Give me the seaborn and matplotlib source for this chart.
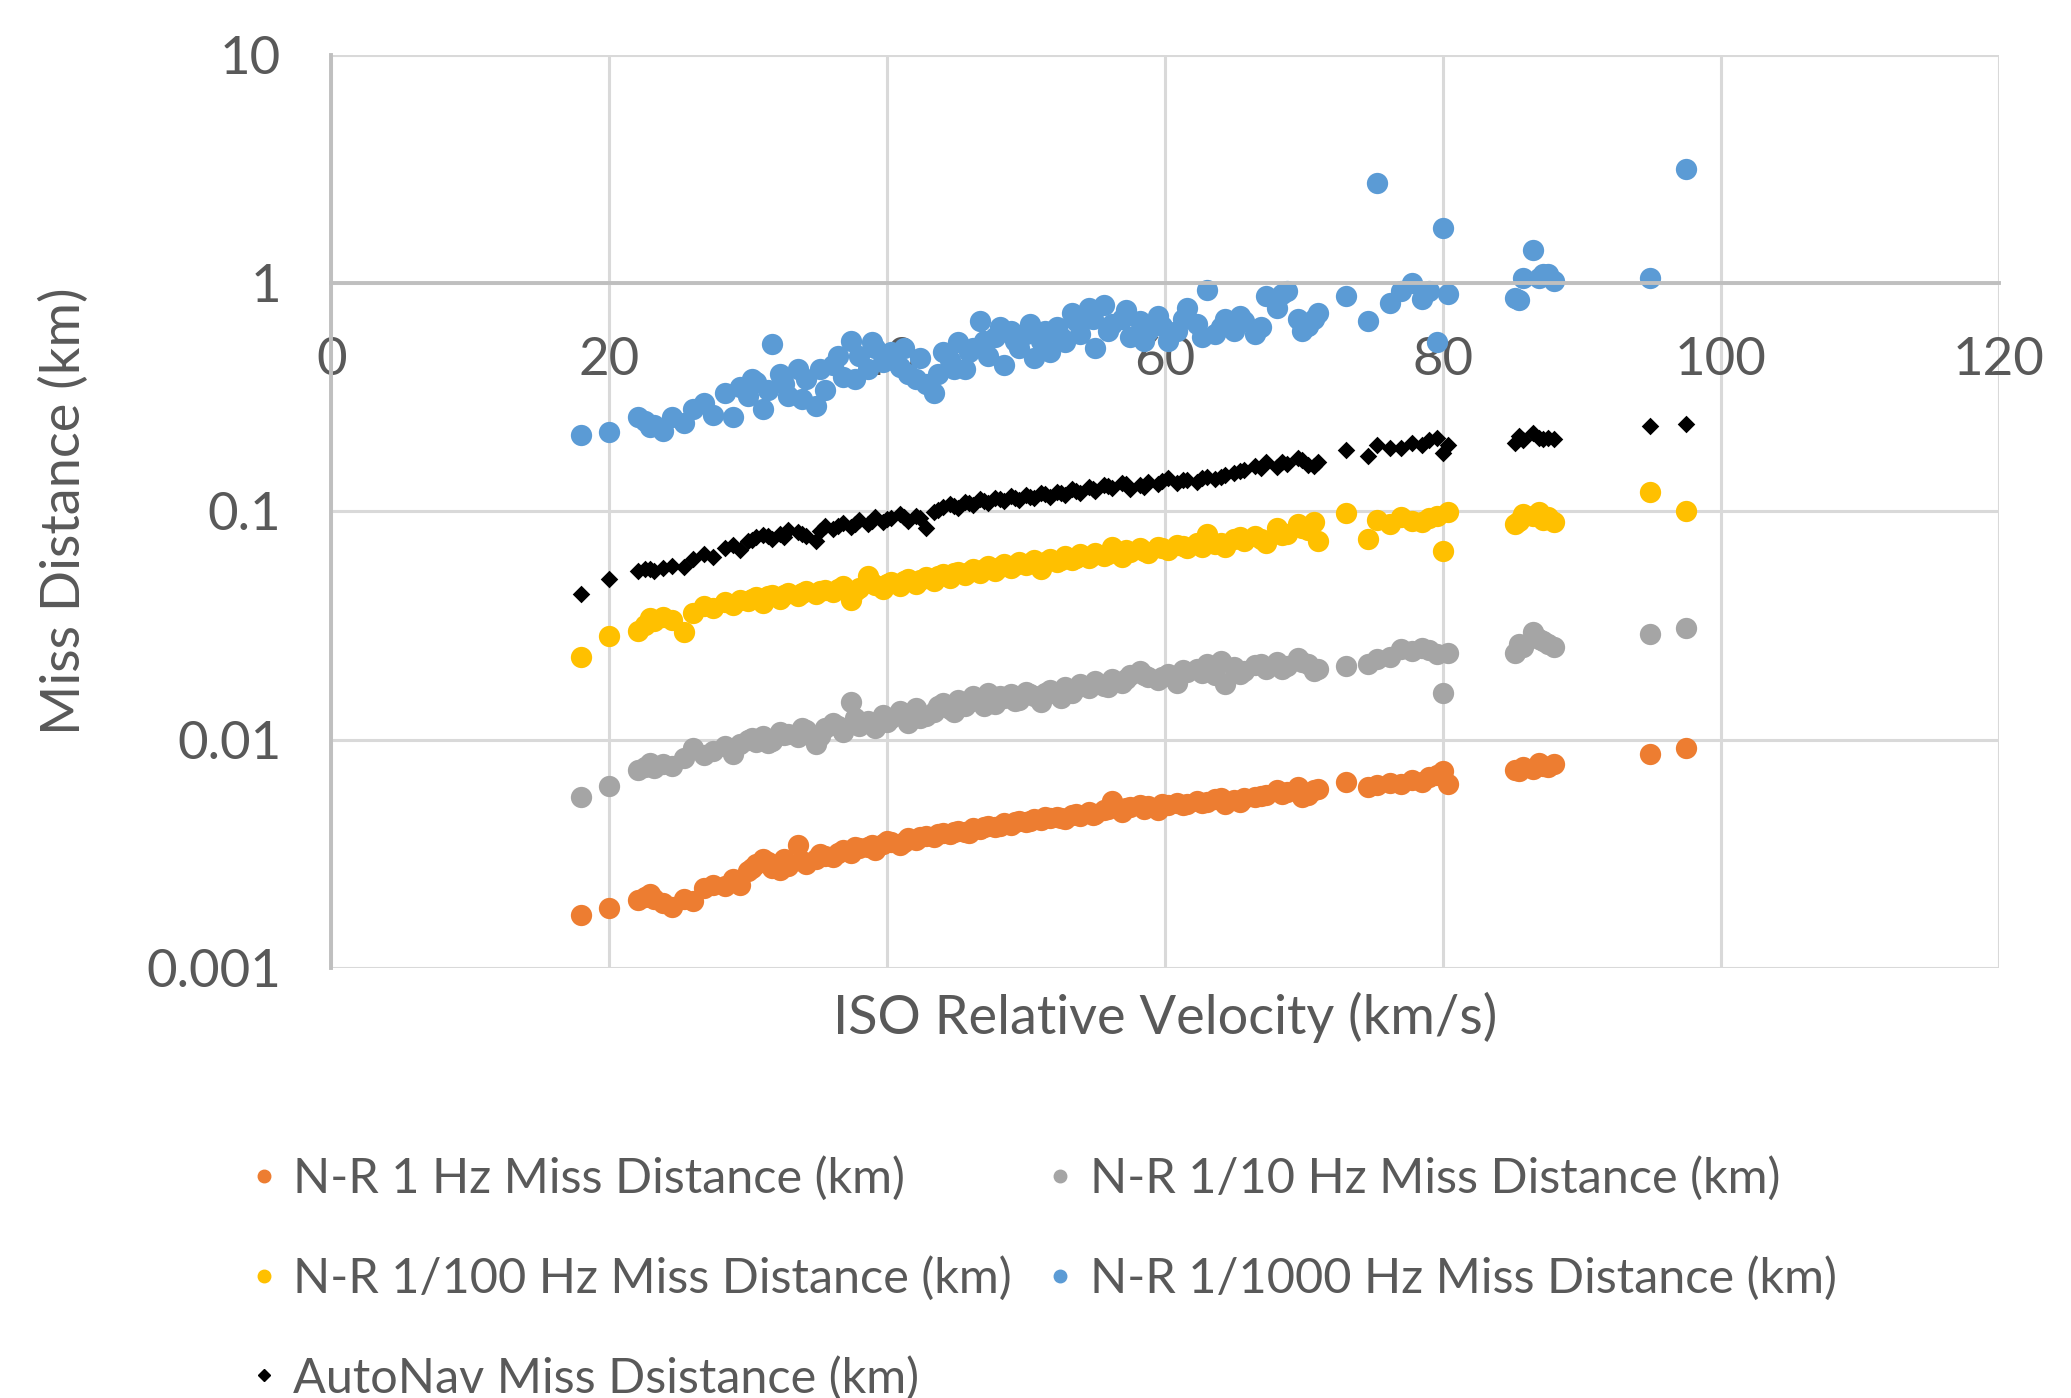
import matplotlib
matplotlib.use("Agg")
import matplotlib.pyplot as plt
import matplotlib.ticker as mticker
import seaborn as sns
import pandas as pd

# ISO relative velocity (km/s), shared by every series
VELOCITY = [
    18.0, 20.0, 22.1, 22.6, 23.2, 23.9, 24.5, 25.4, 26.0, 26.8,
    27.5, 28.3, 28.9, 29.4, 30.0, 30.6, 31.1, 31.7, 32.3, 32.9,
    33.6, 34.2, 34.9, 35.5, 36.1, 36.8, 37.4, 38.0, 38.6, 39.1,
    39.7, 40.3, 40.9, 41.5, 42.1, 42.8, 43.4, 44.0, 44.5, 45.1,
    45.6, 46.2, 46.7, 47.3, 47.8, 48.4, 48.9, 49.5, 50.0, 50.6,
    51.1, 51.7, 52.2, 52.8, 53.3, 53.9, 54.5, 55.0, 55.6, 56.2,
    56.9, 57.5, 58.2, 58.8, 59.5, 60.2, 60.9, 61.6, 62.3, 63.0,
    63.6, 64.3, 65.0, 65.7, 66.5, 67.3, 68.1, 68.8, 69.6, 70.3,
    71.0, 73.0, 74.6, 75.3, 77.0, 77.8, 78.5, 79.6, 80.0, 80.4,
    85.2, 85.8, 86.5, 87.2, 88.0, 94.9, 97.5,
    # second batch of runs
    30.3, 31.4, 32.6, 33.9, 35.2, 36.5, 37.7, 38.9, 40.0, 41.2,
    42.4, 43.7, 44.8, 45.9, 47.0, 48.1, 49.2, 50.3, 51.4, 52.5,
    53.6, 54.8, 55.9, 57.2, 58.5, 59.8, 61.3, 62.7, 64.0, 65.4,
    66.9, 68.4, 69.9, 70.7, 76.2, 79.0, 85.5, 86.9, 87.6, 22.9,
]

NR_1HZ = [
    0.00170, 0.00183, 0.00198, 0.00205, 0.00200, 0.00192, 0.00185, 0.00200, 0.00196, 0.00225,
    0.00232, 0.00228, 0.00245, 0.00232, 0.00265, 0.00285, 0.00300, 0.00275, 0.00268, 0.00280,
    0.00345, 0.00285, 0.00300, 0.00310, 0.00305, 0.00330, 0.00320, 0.00335, 0.00340, 0.00330,
    0.00350, 0.00355, 0.00345, 0.00370, 0.00365, 0.00380, 0.00375, 0.00390, 0.00385, 0.00400,
    0.00395, 0.00410, 0.00405, 0.00420, 0.00415, 0.00430, 0.00425, 0.00440, 0.00435, 0.00450,
    0.00445, 0.00455, 0.00460, 0.00450, 0.00470, 0.00465, 0.00480, 0.00475, 0.00490, 0.00540,
    0.00480, 0.00505, 0.00520, 0.00510, 0.00490, 0.00515, 0.00530, 0.00525, 0.00540, 0.00535,
    0.00550, 0.00525, 0.00545, 0.00555, 0.00560, 0.00575, 0.00600, 0.00590, 0.00620, 0.00570,
    0.00610, 0.00650, 0.00620, 0.00635, 0.00640, 0.00665, 0.00655, 0.00700, 0.00730, 0.00640,
    0.00740, 0.00760, 0.00745, 0.00770, 0.00780, 0.00870, 0.00920,
    0.00275, 0.00290, 0.00300, 0.00295, 0.00315, 0.00320, 0.00340, 0.00345, 0.00360, 0.00355,
    0.00375, 0.00385, 0.00395, 0.00390, 0.00415, 0.00420, 0.00435, 0.00440, 0.00460, 0.00455,
    0.00475, 0.00470, 0.00495, 0.00500, 0.00495, 0.00525, 0.00515, 0.00530, 0.00555, 0.00535,
    0.00565, 0.00580, 0.00560, 0.00600, 0.00645, 0.00690, 0.00730, 0.00790, 0.00760, 0.00210,
]

NR_10HZ = [
    0.0056, 0.0063, 0.0074, 0.0076, 0.0075, 0.0078, 0.0077, 0.0083, 0.0092, 0.0086,
    0.0089, 0.0094, 0.0087, 0.0096, 0.0100, 0.0098, 0.0104, 0.0099, 0.0108, 0.0106,
    0.0103, 0.0110, 0.0096, 0.0112, 0.0118, 0.0108, 0.0146, 0.0115, 0.0121, 0.0112,
    0.0128, 0.0124, 0.0133, 0.0118, 0.0138, 0.0127, 0.0132, 0.0145, 0.0136, 0.0150,
    0.0141, 0.0155, 0.0148, 0.0160, 0.0144, 0.0152, 0.0158, 0.0150, 0.0162, 0.0155,
    0.0147, 0.0165, 0.0158, 0.0170, 0.0160, 0.0175, 0.0168, 0.0180, 0.0172, 0.0185,
    0.0178, 0.0192, 0.0200, 0.0188, 0.0182, 0.0195, 0.0178, 0.0198, 0.0205, 0.0215,
    0.0192, 0.0176, 0.0208, 0.0200, 0.0212, 0.0205, 0.0218, 0.0210, 0.0228, 0.0215,
    0.0205, 0.0210, 0.0215, 0.0225, 0.0250, 0.0245, 0.0252, 0.0238, 0.0160, 0.0240,
    0.0240, 0.0255, 0.0295, 0.0270, 0.0255, 0.0290, 0.0310,
    0.0102, 0.0097, 0.0105, 0.0113, 0.0104, 0.0115, 0.0125, 0.0118, 0.0120, 0.0130,
    0.0125, 0.0140, 0.0132, 0.0146, 0.0140, 0.0156, 0.0148, 0.0158, 0.0160, 0.0153,
    0.0168, 0.0176, 0.0170, 0.0185, 0.0193, 0.0188, 0.0202, 0.0196, 0.0222, 0.0195,
    0.0215, 0.0205, 0.0220, 0.0200, 0.0230, 0.0248, 0.0262, 0.0275, 0.0262, 0.0079,
]

NR_100HZ = [
    0.0231, 0.0286, 0.0300, 0.0318, 0.0330, 0.0345, 0.0335, 0.0295, 0.0360, 0.0385,
    0.0378, 0.0400, 0.0390, 0.0410, 0.0405, 0.0420, 0.0398, 0.0430, 0.0415, 0.0440,
    0.0425, 0.0448, 0.0435, 0.0455, 0.0442, 0.0470, 0.0410, 0.0462, 0.0520, 0.0475,
    0.0458, 0.0490, 0.0470, 0.0505, 0.0480, 0.0515, 0.0498, 0.0530, 0.0510, 0.0545,
    0.0525, 0.0560, 0.0540, 0.0575, 0.0548, 0.0590, 0.0565, 0.0600, 0.0580, 0.0615,
    0.0560, 0.0620, 0.0598, 0.0635, 0.0610, 0.0650, 0.0625, 0.0660, 0.0640, 0.0700,
    0.0630, 0.0665, 0.0690, 0.0655, 0.0700, 0.0675, 0.0710, 0.0690, 0.0730, 0.0800,
    0.0720, 0.0700, 0.0760, 0.0740, 0.0780, 0.0725, 0.0850, 0.0800, 0.0880, 0.0830,
    0.0740, 0.0980, 0.0760, 0.0920, 0.0950, 0.0910, 0.0900, 0.0960, 0.0670, 0.0990,
    0.0880, 0.0970, 0.0960, 0.0920, 0.0900, 0.1220, 0.1000,
    0.0412, 0.0425, 0.0432, 0.0440, 0.0450, 0.0458, 0.0450, 0.0485, 0.0480, 0.0495,
    0.0500, 0.0520, 0.0535, 0.0545, 0.0560, 0.0570, 0.0585, 0.0595, 0.0600, 0.0615,
    0.0625, 0.0645, 0.0650, 0.0680, 0.0670, 0.0690, 0.0705, 0.0700, 0.0730, 0.0770,
    0.0760, 0.0790, 0.0850, 0.0900, 0.0880, 0.0940, 0.0910, 0.0990, 0.0950, 0.0340,
]

NR_1000HZ = [
    0.216, 0.222, 0.260, 0.250, 0.240, 0.225, 0.260, 0.245, 0.280, 0.300,
    0.265, 0.330, 0.260, 0.350, 0.320, 0.370, 0.280, 0.540, 0.400, 0.320,
    0.420, 0.380, 0.290, 0.340, 0.440, 0.390, 0.560, 0.480, 0.420, 0.520,
    0.450, 0.500, 0.430, 0.400, 0.380, 0.360, 0.330, 0.500, 0.460, 0.550,
    0.420, 0.520, 0.680, 0.480, 0.580, 0.440, 0.620, 0.520, 0.600, 0.470,
    0.560, 0.500, 0.640, 0.550, 0.740, 0.600, 0.780, 0.520, 0.800, 0.660,
    0.700, 0.580, 0.680, 0.620, 0.720, 0.560, 0.620, 0.780, 0.660, 0.930,
    0.600, 0.700, 0.620, 0.680, 0.600, 0.880, 0.780, 0.920, 0.700, 0.650,
    0.740, 0.880, 0.680, 2.750, 0.920, 1.000, 0.850, 0.550, 1.750, 0.900,
    0.860, 1.050, 1.400, 1.100, 1.020, 1.050, 3.170,
    0.380, 0.340, 0.360, 0.310, 0.420, 0.480, 0.380, 0.550, 0.460, 0.520,
    0.470, 0.400, 0.420, 0.500, 0.560, 0.640, 0.560, 0.660, 0.620, 0.580,
    0.680, 0.700, 0.620, 0.760, 0.560, 0.650, 0.700, 0.580, 0.640, 0.720,
    0.640, 0.900, 0.620, 0.700, 0.820, 0.920, 0.840, 1.050, 1.100, 0.235,
]

AUTONAV = [
    0.0433, 0.0507, 0.0550, 0.0560, 0.0548, 0.0565, 0.0575, 0.0570, 0.0620, 0.0650,
    0.0630, 0.0690, 0.0710, 0.0680, 0.0740, 0.0770, 0.0790, 0.0760, 0.0800, 0.0830,
    0.0815, 0.0780, 0.0740, 0.0860, 0.0840, 0.0890, 0.0855, 0.0920, 0.0880, 0.0950,
    0.0900, 0.0940, 0.0970, 0.0910, 0.0960, 0.0850, 0.0990, 0.1050, 0.1080, 0.1040,
    0.1100, 0.1070, 0.1130, 0.1090, 0.1150, 0.1110, 0.1170, 0.1120, 0.1180, 0.1140,
    0.1200, 0.1160, 0.1220, 0.1180, 0.1250, 0.1210, 0.1280, 0.1230, 0.1310, 0.1270,
    0.1330, 0.1250, 0.1300, 0.1350, 0.1320, 0.1400, 0.1330, 0.1380, 0.1350, 0.1420,
    0.1390, 0.1440, 0.1470, 0.1520, 0.1580, 0.1650, 0.1560, 0.1620, 0.1720, 0.1600,
    0.1650, 0.1850, 0.1750, 0.1950, 0.1900, 0.2000, 0.1950, 0.2100, 0.1800, 0.1950,
    0.2000, 0.2050, 0.2200, 0.2080, 0.2080, 0.2370, 0.2420,
    0.0750, 0.0780, 0.0770, 0.0800, 0.0820, 0.0865, 0.0880, 0.0905, 0.0930, 0.0950,
    0.0940, 0.1010, 0.1060, 0.1085, 0.1110, 0.1130, 0.1150, 0.1160, 0.1190, 0.1200,
    0.1230, 0.1260, 0.1290, 0.1320, 0.1280, 0.1360, 0.1370, 0.1400, 0.1410, 0.1500,
    0.1550, 0.1650, 0.1680, 0.1580, 0.1900, 0.2050, 0.2150, 0.2100, 0.2100, 0.0558,
]

X_TICKS = [0, 20, 40, 60, 80, 100, 120]
Y_TICKS = [0.001, 0.01, 0.1, 1, 10]

# (label, values, colour, marker, size)
SERIES = [
    ("N-R 1 Hz Miss Distance (km)", NR_1HZ, "#ED7D31", "o", 235),
    ("N-R 1/10 Hz Miss Distance (km)", NR_10HZ, "#A5A5A5", "o", 235),
    ("N-R 1/100 Hz Miss Distance (km)", NR_100HZ, "#FFC000", "o", 235),
    ("N-R 1/1000 Hz Miss Distance (km)", NR_1000HZ, "#5B9BD5", "o", 235),
    ("AutoNav Miss Dsistance (km)", AUTONAV, "black", "D", 80),
]

TEXT = "#595959"
GRID = "#D9D9D9"
AXIS = "#BFBFBF"

sns.set_style("white")
plt.rcParams["font.family"] = ["Lato", "DejaVu Sans"]

fig = plt.figure(figsize=(20.71, 13.98), dpi=100)
ax = fig.add_axes([0.160, 0.3076, 0.805, 0.6531])

handles = []
for label, vals, color, marker, size in SERIES:
    assert len(vals) == len(VELOCITY)
    d = pd.DataFrame({"v": VELOCITY, "m": vals})
    sns.scatterplot(data=d, x="v", y="m", ax=ax, color=color, marker=marker,
                    s=size, linewidth=0, label=label, legend=False)
    handles.append(plt.Line2D([], [], ls="none", marker=marker, color=color,
                              markersize=9 if marker == "o" else 6, label=label))

ax.set_yscale("log")
ax.set_xlim(0, 120)
ax.set_ylim(0.001, 10)
ax.set_xticks(X_TICKS)
ax.set_yticks(Y_TICKS)
ax.yaxis.set_minor_locator(mticker.NullLocator())
ax.yaxis.set_major_formatter(mticker.FuncFormatter(lambda v, _: f"{v:g}"))

ax.grid(True, color=GRID, lw=2.2)
ax.set_axisbelow(True)
ax.spines["top"].set_visible(False)
ax.spines["right"].set_visible(False)
ax.spines["left"].set_color(AXIS)
ax.spines["left"].set_linewidth(2.8)
# horizontal axis crosses at 1, like the Excel original
ax.spines["bottom"].set_position(("data", 1))
ax.spines["bottom"].set_color(AXIS)
ax.spines["bottom"].set_linewidth(2.8)

ax.tick_params(axis="x", length=0, pad=39, labelsize=38, labelcolor=TEXT)
ax.tick_params(axis="y", length=0, pad=36, labelsize=38, labelcolor=TEXT)

ax.set_xlabel("ISO Relative Velocity (km/s)", fontsize=39, color=TEXT)
ax.xaxis.set_label_coords(0.5, -0.0545)
ax.xaxis.label.set_verticalalignment("center")
ax.set_ylabel("Miss Distance (km)", fontsize=39, color=TEXT)
ax.yaxis.set_label_coords(-0.1606, 0.5)
ax.yaxis.label.set_verticalalignment("center")

# two columns, filled row-wise as in the original
order = [0, 2, 4, 1, 3]
fig.legend([handles[i] for i in order], [handles[i].get_label() for i in order],
           loc="upper left", bbox_to_anchor=(0.118, 0.173), ncol=2, frameon=False,
           fontsize=35, labelcolor=TEXT, handletextpad=0.2, handlelength=0.8,
           columnspacing=0.6, labelspacing=1.13, borderaxespad=0, borderpad=0)

fig.savefig("out.png", dpi=100)
